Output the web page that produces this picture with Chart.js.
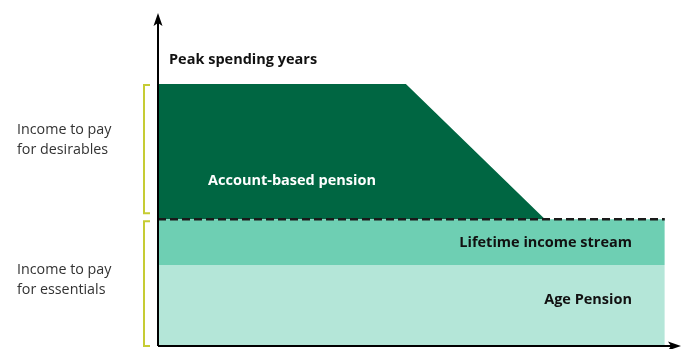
<!DOCTYPE html>
<html>
<head>
<meta charset="utf-8">
<script src="https://cdn.jsdelivr.net/npm/chart.js@4"></script>
<style>
  html, body { margin: 0; padding: 0; background: #fff; }
  #wrap { width: 681px; height: 349px; }
</style>
</head>
<body>
<div id="wrap"><canvas id="mycanvas" width="681" height="349"></canvas></div>
<script>
// points along the retirement timeline (0 = retirement start)
var years = [0, 47.4, 74, 96.9];
// layers of income, stacked from the bottom
var agePension = [24.3, 24.3, 24.3, 24.3];
var lifetimeIncome = [13.8, 13.8, 13.8, 13.8];
var accountBased = [40.6, 40.6, 0, 0];
// dashed line marking the top of essential income
var essentialsLine = [38.1, 38.1, 38.1, 38.1];

var labels = {
  peak: 'Peak spending years',
  account: 'Account-based pension',
  lifetime: 'Lifetime income stream',
  age: 'Age Pension',
  desirables: ['Income to pay', 'for desirables'],
  essentials: ['Income to pay', 'for essentials']
};

function pts(vals) {
  var out = [];
  for (var i in vals) out.push({x: years[i], y: vals[i]});
  return out;
}

// axes with arrows, brackets and text
var overlay = {
  id: 'overlay',
  afterDraw: function(chart) {
    var c = chart.ctx;
    var xs = chart.scales.x, ys = chart.scales.y;
    var a = chart.chartArea;
    var x0 = a.left, y0 = a.bottom;

    c.save();
    // axes
    c.strokeStyle = '#000';
    c.fillStyle = '#000';
    c.lineWidth = 2;
    c.beginPath();
    c.moveTo(x0, y0); c.lineTo(x0, a.top + 6);
    c.moveTo(x0, y0); c.lineTo(a.right - 6, y0);
    c.stroke();
    // up arrow
    c.beginPath();
    c.moveTo(x0, a.top);
    c.lineTo(x0 - 4.5, a.top + 13);
    c.lineTo(x0, a.top + 10);
    c.lineTo(x0 + 4.5, a.top + 13);
    c.closePath(); c.fill();
    // right arrow
    c.beginPath();
    c.moveTo(a.right, y0);
    c.lineTo(a.right - 13, y0 - 4.5);
    c.lineTo(a.right - 10, y0);
    c.lineTo(a.right - 13, y0 + 4.5);
    c.closePath(); c.fill();

    // brackets
    var topDes = ys.getPixelForValue(78.7) + 1;
    var essTop = ys.getPixelForValue(38.1);
    c.strokeStyle = '#c6cc34';
    c.lineWidth = 2;
    function bracket(t, b) {
      c.beginPath();
      c.moveTo(150, t); c.lineTo(144, t); c.lineTo(144, b); c.lineTo(150, b);
      c.stroke();
    }
    bracket(topDes, essTop - 6);
    bracket(essTop + 2, y0);

    // text
    c.textBaseline = 'middle';
    c.font = 'bold 14.5px "Open Sans"';
    c.fillStyle = '#111';
    c.textAlign = 'left';
    c.fillText(labels.peak, 169, 60);
    c.fillStyle = '#fff';
    c.fillText(labels.account, 208, 181);
    c.fillStyle = '#111';
    c.textAlign = 'right';
    c.fillText(labels.lifetime, 632, 243);
    c.fillText(labels.age, 632, 300);

    c.font = '14.3px "Open Sans"';
    c.fillStyle = '#333';
    c.textAlign = 'left';
    c.fillText(labels.desirables[0], 17, 130);
    c.fillText(labels.desirables[1], 17, 150);
    c.fillText(labels.essentials[0], 17, 270);
    c.fillText(labels.essentials[1], 17, 290);
    c.restore();
  }
};

var ctx = document.getElementById('mycanvas');
var chart = new Chart(ctx, {
  type: 'line',
  data: {
    datasets: [
      {
        label: 'Age Pension',
        data: pts(agePension),
        backgroundColor: '#b4e6d8',
        borderWidth: 0,
        fill: 'origin',
        stack: 'income'
      },
      {
        label: 'Lifetime income stream',
        data: pts(lifetimeIncome),
        backgroundColor: '#6ecfb3',
        borderWidth: 0,
        fill: '-1',
        stack: 'income'
      },
      {
        label: 'Account-based pension',
        data: pts(accountBased),
        backgroundColor: '#006642',
        borderWidth: 0,
        fill: '-1',
        stack: 'income'
      },
      {
        label: 'Essentials',
        data: pts(essentialsLine),
        borderColor: '#1a1a1a',
        borderWidth: 2.5,
        borderDash: [8, 4],
        fill: false,
        stack: 'guide',
        order: -1
      }
    ]
  },
  options: {
    responsive: false,
    animation: false,
    layout: { padding: { left: 158, right: 0, top: 13, bottom: 3 } },
    elements: { point: { radius: 0 }, line: { tension: 0 } },
    plugins: { legend: { display: false }, tooltip: { enabled: false } },
    scales: {
      x: { type: 'linear', min: 0, max: 100, display: false },
      y: { stacked: true, min: 0, max: 100, display: false }
    }
  },
  plugins: [overlay]
});
</script>
</body>
</html>
